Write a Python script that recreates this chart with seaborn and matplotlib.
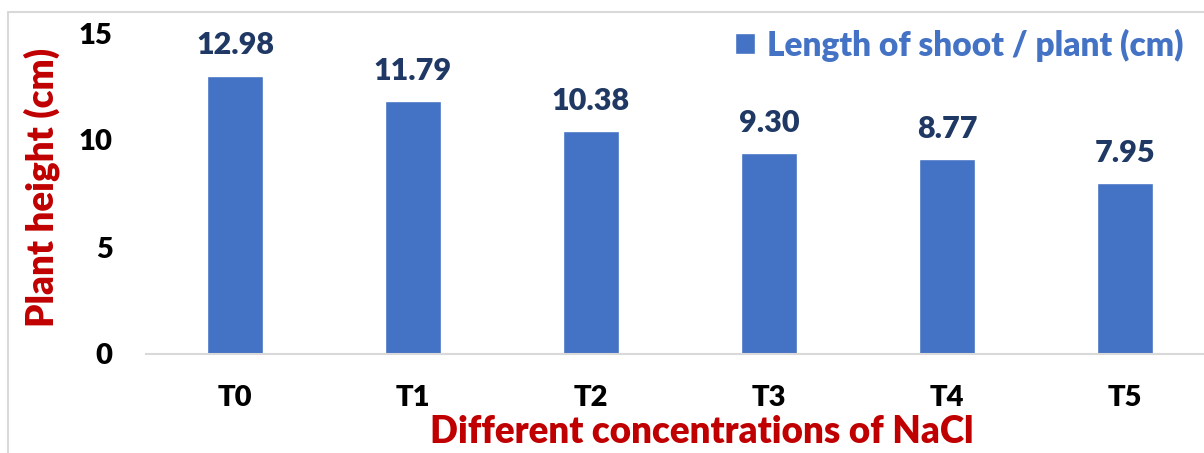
import matplotlib
matplotlib.use("Agg")
import matplotlib.pyplot as plt
import seaborn as sns
import pandas as pd
from matplotlib.patches import Rectangle

# values
treatments = ["T0", "T1", "T2", "T3", "T4", "T5"]
bar_heights = [13.0, 11.8, 10.4, 9.37, 9.09, 7.97]
value_labels = ["12.98", "11.79", "10.38", "9.30", "8.77", "7.95"]
series_name = "Length of shoot / plant (cm)"
y_ticks = [0, 5, 10, 15]

df = pd.DataFrame({"treatment": treatments, "height": bar_heights})

sns.set_style("white")
plt.rcParams["font.family"] = ["Lato", "DejaVu Sans"]
W = "heavy"
plt.rcParams["font.weight"] = W

fig = plt.figure(figsize=(12.04, 4.53), dpi=100)
ax = fig.add_axes([146 / 1204, 99 / 453, 1068 / 1204, 321 / 453])

sns.barplot(data=df, x="treatment", y="height", color="#4472C4", width=0.31,
            saturation=1, label=series_name, ax=ax)

# labels above each bar
for i, (h, txt) in enumerate(zip(bar_heights, value_labels)):
    ax.annotate(txt, (i, h), xytext=(0, 22), textcoords="offset points",
                ha="center", va="center", fontsize=22, fontweight=W,
                color="#1F3864")

ax.set_ylim(0, 15)
ax.set_xlim(-0.5, 5.5)
ax.set_yticks(y_ticks)
ax.tick_params(axis="both", length=0, labelsize=21, labelcolor="black")
ax.tick_params(axis="y", pad=24)
ax.tick_params(axis="x", pad=22)
for lab in ax.get_xticklabels() + ax.get_yticklabels():
    lab.set_fontweight(W)

for side in ["top", "right", "left"]:
    ax.spines[side].set_visible(False)
ax.spines["bottom"].set_color("#D9D9D9")
ax.spines["bottom"].set_linewidth(1.5)

ax.set_xlabel("Different concentrations of NaCl", fontsize=26.5, fontweight=W,
              color="#C00000", va="center")
ax.xaxis.set_label_coords(0.52, -0.243)
ax.set_ylabel("Plant height (cm)", fontsize=26.5, fontweight=W,
              color="#C00000", va="center")
ax.yaxis.set_label_coords(-0.0974, 0.52)

leg = ax.legend(loc="center right", bbox_to_anchor=(1200 / 1204, 1 - 45 / 453),
                bbox_transform=fig.transFigure, frameon=False, fontsize=24,
                labelcolor="#4472C4", handlelength=0.6, handleheight=0.6,
                handletextpad=0.35, borderpad=0)
for t in leg.get_texts():
    t.set_fontweight(W)

# light chart-area border
fig.patches.append(Rectangle((8 / 1204, -0.1), 1.2, 1 - 12 / 453 + 0.1,
                             transform=fig.transFigure, fill=False,
                             edgecolor="#D9D9D9", linewidth=1.5))

fig.savefig("out.png", dpi=100)
